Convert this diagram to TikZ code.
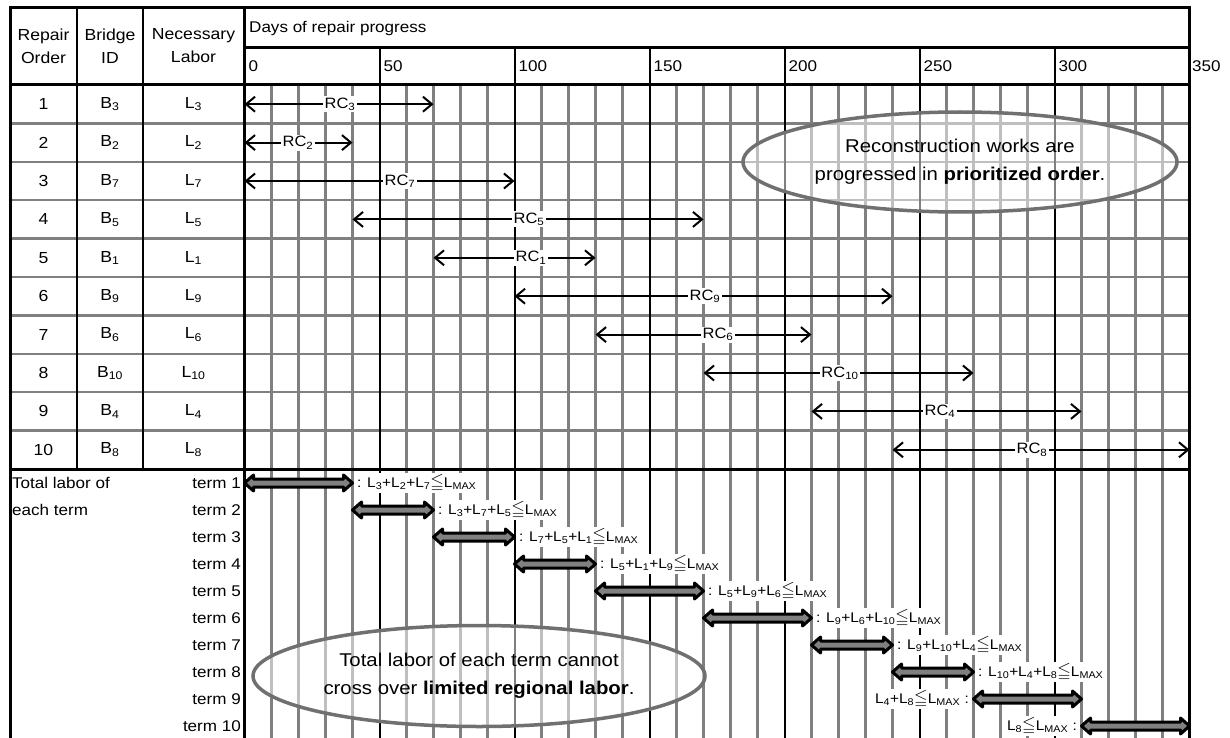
\documentclass[tikz,border=0pt]{standalone}
\usepackage{fontspec}
\setmainfont{Liberation Sans}[FakeStretch=1.1]
\usepackage{amssymb}
\usepackage{graphicx}
\usetikzlibrary{arrows.meta,calc,shapes.geometric}

\definecolor{gridgray}{RGB}{128,128,128}
\definecolor{ringgray}{RGB}{112,112,112}
\definecolor{barfill}{RGB}{128,128,128}

% day -> horizontal position
\def\dayx#1{(244.5+2.7*(#1))}
\newcommand\sbs[1]{\textsubscript{#1}}
\newcommand\Lmax{L\textsubscript{MAX}}
\newcommand\leqsym{\scalebox{1.25}{\ensuremath{\leqq}}}

% thick double-headed bar between two named coordinates
\newcommand\termbar[2]{%
  \draw[termbarstyle] (#1) -- ++(9,-8) -- ++(0,4) -- ($(#2)+(-9,-4)$)
    -- ++(0,-4) -- (#2) -- ++(-9,8) -- ++(0,-4) -- ($(#1)+(9,4)$)
    -- ++(0,4) -- cycle;}

\begin{document}
\begin{tikzpicture}[x=1pt,y=-1pt,
  minorline/.style={gridgray, line width=2.2pt},
  majorline/.style={black, line width=2pt},
  rowline/.style={gridgray, line width=2.4pt},
  frameline/.style={black, line width=3pt, line cap=rect},
  colline/.style={black, line width=2pt},
  cell/.style={font=\fontsize{16}{23}\selectfont, align=center, inner sep=0pt},
  scalelab/.style={font=\fontsize{15.5}{18}\selectfont, anchor=west, inner sep=0pt},
  rcarrow/.style={black, line width=2pt,
    {Straight Barb[length=9pt,width=15pt]}-{Straight Barb[length=9pt,width=15pt]}},
  rclab/.style={fill=white, inner sep=1.5pt, font=\fontsize{15}{17}\selectfont},
  termlab/.style={font=\fontsize{15.5}{18}\selectfont, anchor=east, inner sep=1pt},
  sumlab/.style={fill=white, inner sep=1.5pt, font=\fontsize{14}{16}\selectfont},
  termbarstyle/.style={draw=black, fill=barfill, line width=3pt, line join=round},
  note/.style={ellipse, draw=ringgray, line width=3.5pt, fill=white,
    fill opacity=0.5, text opacity=1, inner sep=0pt, align=center,
    font=\fontsize{18.5}{28}\selectfont}]

\useasboundingbox (0,0) rectangle (1230,738);
\fill[white] (0,0) rectangle (1230,738);

% minor grid: every 10 days
\foreach \m in {0,50,...,300}{
  \foreach \k in {10,20,30,40}{
    \draw[minorline] ({\dayx{\m+\k}},85) -- ({\dayx{\m+\k}},738);
  }
}

% row separators
\foreach \r in {1,...,9}{
  \draw[rowline] (10,{85+38.4*\r}) -- (1189,{85+38.4*\r});
}

% major grid: every 50 days
\foreach \m in {50,100,...,300}{
  \draw[majorline] ({\dayx{\m}},48) -- ({\dayx{\m}},738);
}

% table frame
\draw[frameline] (10,8) -- (1189,8);
\draw[frameline] (10,8) -- (10,738);
\draw[frameline] (1189,8) -- (1189,738);
\draw[frameline] (244.5,8) -- (244.5,738);
\draw[frameline] (244.5,48) -- (1189,48);
\draw[frameline] (10,85) -- (1189,85);
\draw[frameline] (10,469) -- (1189,469);
\draw[colline] (77,8) -- (77,469);
\draw[colline] (143,8) -- (143,469);

% header
\node[cell] (hOrder) at (43.5,46) {Repair\\Order};
\node[cell] (hBridge) at (110,46) {Bridge\\ID};
\node[cell] (hLabor) at (193.5,46) {Necessary\\Labor};
\node[scalelab] (hDays) at (249,28) {Days of repair progress};
\foreach \m in {0,50,...,300}{
  \node[scalelab] (sc\m) at ({\dayx{\m}+4},66) {\m};
}
\node[scalelab] (sc350) at (1192,66) {350};

% rows: order, bridge, reconstruction span
\foreach \r/\b/\s/\e/\lx in {1/3/0/70/340, 2/2/0/40/298, 3/7/0/100/400,
    4/5/40/170/529, 5/1/70/130/531, 6/9/100/240/705, 7/6/130/210/718,
    8/10/170/270/840, 9/4/210/310/940, 10/8/240/350/1032}{
  \pgfmathsetmacro\yy{85+38.4*(\r-0.5)}
  \node[cell] (ord\r) at (43.5,\yy) {\r};
  \node[cell] (bid\r) at (110,\yy) {B\sbs{\b}};
  \node[cell] (lab\r) at (193.5,\yy) {L\sbs{\b}};
  \coordinate (rs\r) at ({\dayx{\s}},\yy);
  \coordinate (re\r) at ({\dayx{\e}},\yy);
  \draw[rcarrow] (rs\r) -- (re\r);
  \node[rclab] (rc\r) at (\lx,\yy) {RC\sbs{\b}};
}

% terms
\node[cell, align=left, anchor=west, font=\fontsize{15.5}{27}\selectfont] (total)
  at (12,496.5) {Total labor of\\each term};
\foreach \k/\s/\e in {1/0/40, 2/40/70, 3/70/100, 4/100/130, 5/130/170,
    6/170/210, 7/210/240, 8/240/270, 9/270/310, 10/310/350}{
  \pgfmathsetmacro\yy{483+27*(\k-1)}
  \node[termlab] (term\k) at (242,\yy) {term \k};
  \coordinate (ts\k) at ({\dayx{\s}},\yy);
  \coordinate (te\k) at ({\dayx{\e}},\yy);
}

\node[sumlab, anchor=west] (sum1) at ($(te1)+(3,0)$) {: L\sbs{3}+L\sbs{2}+L\sbs{7}\leqsym\Lmax};
\node[sumlab, anchor=west] (sum2) at ($(te2)+(3,0)$) {: L\sbs{3}+L\sbs{7}+L\sbs{5}\leqsym\Lmax};
\node[sumlab, anchor=west] (sum3) at ($(te3)+(3,0)$) {: L\sbs{7}+L\sbs{5}+L\sbs{1}\leqsym\Lmax};
\node[sumlab, anchor=west] (sum4) at ($(te4)+(3,0)$) {: L\sbs{5}+L\sbs{1}+L\sbs{9}\leqsym\Lmax};
\node[sumlab, anchor=west] (sum5) at ($(te5)+(3,0)$) {: L\sbs{5}+L\sbs{9}+L\sbs{6}\leqsym\Lmax};
\node[sumlab, anchor=west] (sum6) at ($(te6)+(3,0)$) {: L\sbs{9}+L\sbs{6}+L\sbs{10}\leqsym\Lmax};
\node[sumlab, anchor=west] (sum7) at ($(te7)+(3,0)$) {: L\sbs{9}+L\sbs{10}+L\sbs{4}\leqsym\Lmax};
\node[sumlab, anchor=west] (sum8) at ($(te8)+(3,0)$) {: L\sbs{10}+L\sbs{4}+L\sbs{8}\leqsym\Lmax};
\node[sumlab, anchor=east] (sum9) at ($(ts9)+(-3,0)$) {L\sbs{4}+L\sbs{8}\leqsym\Lmax\ :};
\node[sumlab, anchor=east] (sum10) at ($(ts10)+(-3,0)$) {L\sbs{8}\leqsym\Lmax\ :};

\foreach \k in {1,...,10}{
  \termbar{ts\k}{te\k}
}

% call-outs
\node[note, minimum width=434pt, minimum height=100pt] (prio) at (960,162)
  {Reconstruction works are\\progressed in \textbf{prioritized order}.};
\node[note, minimum width=452pt, minimum height=101pt] (limit) at (479,676)
  {Total labor of each term cannot\\cross over \textbf{limited regional labor}.};
\end{tikzpicture}
\end{document}
